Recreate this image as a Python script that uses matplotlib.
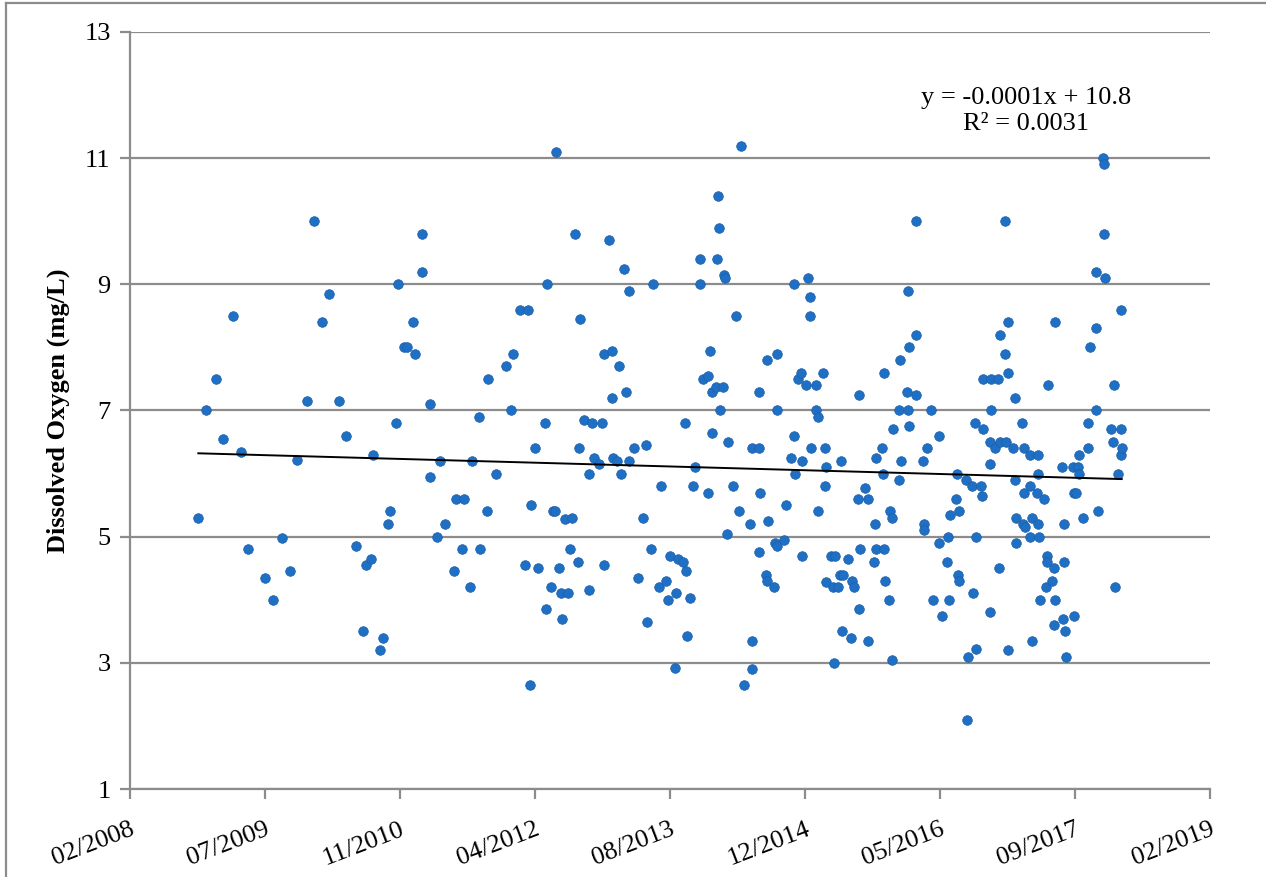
import numpy as np
import pandas as pd
import matplotlib
matplotlib.use("Agg")
import matplotlib.pyplot as plt
import matplotlib.dates as mdates
from matplotlib.lines import Line2D

# Sample dates as spreadsheet date serials (days since 1899-12-30)
sample_serials = [
    39753, 39783, 39817, 39846, 39881, 39910, 39936, 40000, 40028, 40063,
    40093, 40120, 40156, 40183, 40210, 40238, 40274, 40301, 40337, 40364,
    40373, 40393, 40401, 40427, 40436, 40456, 40464, 40485, 40493, 40515,
    40527, 40547, 40556, 40583, 40583, 40610, 40611, 40638, 40647, 40667,
    40701, 40707, 40730, 40738, 40758, 40766, 40793, 40796, 40821, 40825,
    40854, 40892, 40911, 40920, 40946, 40963, 40975, 40981, 40984, 41001,
    41010, 41037, 41041, 41046, 41058, 41068, 41074, 41077, 41089, 41097,
    41101, 41112, 41121, 41129, 41136, 41148, 41159, 41166, 41162, 41183,
    41200, 41201, 41210, 41220, 41238, 41247, 41256, 41257, 41273, 41284,
    41285, 41289, 41303, 41311, 41317, 41328, 41337, 41348, 41349, 41367,
    41380, 41401, 41410, 41414, 41430, 41438, 41459, 41467, 41485, 41494,
    41500, 41519, 41522, 41531, 41547, 41557, 41558, 41562, 41575, 41584,
    41594, 41610, 41612, 41621, 41640, 41642, 41647, 41654, 41655, 41670,
    41675, 41678, 41683, 41686, 41696, 41701, 41705, 41712, 41713, 41732,
    41746, 41756, 41762, 41775, 41796, 41804, 41803, 41805, 41830, 41831,
    41832, 41829, 41856, 41858, 41862, 41861, 41888, 41887, 41895, 41896,
    41897, 41922, 41929, 41948, 41958, 41959, 41962, 41975, 41985, 41989,
    41990, 42004, 42011, 42020, 42019, 42021, 42041, 42040, 42049, 42048,
    42068, 42075, 42076, 42074, 42077, 42097, 42103, 42108, 42111, 42121,
    42131, 42133, 42138, 42142, 42159, 42170, 42175, 42182, 42196, 42200,
    42201, 42205, 42222, 42232, 42233, 42257, 42258, 42262, 42263, 42285,
    42289, 42294, 42293, 42295, 42311, 42316, 42321, 42323, 42326, 42348,
    42349, 42353, 42354, 42378, 42380, 42383, 42385, 42386, 42410, 42411,
    42412, 42436, 42441, 42442, 42451, 42468, 42475, 42495, 42496, 42507,
    42527, 42531, 42532, 42537, 42560, 42562, 42568, 42569, 42570, 42595,
    42599, 42603, 42620, 42623, 42631, 42632, 42633, 42651, 42657, 42658,
    42660, 42684, 42686, 42688, 42687, 42690, 42705, 42715, 42720, 42722,
    42723, 42741, 42742, 42744, 42751, 42752, 42753, 42769, 42777, 42779,
    42781, 42783, 42805, 42808, 42811, 42812, 42815, 42832, 42833, 42834,
    42840, 42841, 42858, 42862, 42863, 42864, 42866, 42870, 42886, 42895,
    42896, 42894, 42899, 42916, 42923, 42924, 42925, 42926, 42953, 42954,
    42959, 42960, 42963, 42965, 42991, 42995, 42997, 43002, 43012, 43014,
    43015, 43031, 43049, 43050, 43057, 43078, 43079, 43077, 43086, 43106,
    43105, 43109, 43110, 43133, 43141, 43144, 43148, 43160, 43169, 43170,
    43171, 43173,
]

# Dissolved oxygen (mg/L) for each sample
do_mg_l = [
    5.30, 7.00, 7.50, 6.55, 8.50, 6.35, 4.80, 4.35, 4.00, 4.98,
    4.45, 6.22, 7.15, 10.00, 8.40, 8.85, 7.15, 6.60, 4.85, 3.50,
    4.55, 4.65, 6.30, 3.20, 3.40, 5.20, 5.40, 6.80, 9.00, 8.00,
    8.00, 8.40, 7.90, 9.80, 9.20, 5.95, 7.10, 5.00, 6.20, 5.20,
    4.45, 5.60, 4.80, 5.60, 4.20, 6.20, 6.90, 4.80, 5.40, 7.50,
    6.00, 7.70, 7.00, 7.90, 8.60, 4.55, 8.60, 2.65, 5.50, 6.40,
    4.50, 6.80, 3.85, 9.00, 4.20, 5.40, 5.40, 11.10, 4.50, 4.10,
    3.70, 5.28, 4.10, 4.80, 5.30, 9.80, 4.60, 8.45, 6.40, 6.85,
    6.00, 4.15, 6.80, 6.25, 6.15, 6.80, 7.90, 4.55, 9.70, 7.95,
    7.20, 6.25, 6.20, 7.70, 6.00, 9.25, 7.30, 8.90, 6.20, 6.40,
    4.35, 5.30, 6.45, 3.65, 4.80, 9.00, 4.20, 5.80, 4.30, 4.00,
    4.70, 2.92, 4.10, 4.65, 4.60, 6.80, 4.45, 3.42, 4.02, 5.80,
    6.10, 9.00, 9.40, 7.50, 7.55, 5.70, 7.95, 6.65, 7.30, 7.38,
    9.40, 10.40, 9.90, 7.00, 7.38, 9.15, 9.10, 5.05, 6.50, 5.80,
    8.50, 5.40, 11.20, 2.65, 5.20, 3.35, 2.90, 6.40, 7.30, 6.40,
    5.70, 4.75, 4.40, 7.80, 5.25, 4.30, 4.90, 4.20, 4.85, 7.90,
    7.00, 4.95, 5.50, 6.25, 9.00, 6.60, 6.00, 7.50, 7.60, 4.70,
    6.20, 7.40, 9.10, 8.80, 8.50, 6.40, 7.40, 7.00, 6.90, 5.40,
    7.60, 6.40, 6.10, 5.80, 4.28, 4.70, 4.20, 3.00, 4.70, 4.20,
    4.40, 6.20, 3.50, 4.40, 4.65, 3.40, 4.30, 4.20, 5.60, 7.25,
    3.85, 4.80, 5.77, 5.60, 3.35, 4.60, 5.20, 4.80, 6.25, 6.40,
    6.00, 7.60, 4.80, 4.30, 4.00, 5.40, 5.30, 3.05, 6.70, 7.00,
    5.90, 7.80, 6.20, 7.30, 7.00, 8.90, 8.00, 6.75, 10.00, 8.20,
    7.25, 6.20, 5.20, 5.10, 6.40, 7.00, 4.00, 6.60, 4.90, 3.75,
    4.60, 5.00, 4.00, 5.35, 5.60, 6.00, 4.40, 5.40, 4.30, 5.90,
    2.10, 3.10, 5.80, 4.10, 6.80, 5.00, 3.22, 5.80, 5.65, 6.70,
    7.50, 6.15, 6.50, 7.00, 3.80, 7.50, 6.40, 7.50, 4.50, 6.50,
    8.20, 7.90, 10.00, 6.50, 7.60, 8.40, 3.20, 6.40, 7.20, 5.90,
    4.90, 5.30, 6.80, 5.20, 6.40, 5.70, 5.15, 6.30, 5.80, 5.00,
    5.30, 3.35, 5.70, 6.30, 6.00, 5.20, 5.00, 4.00, 5.60, 4.70,
    4.60, 4.20, 7.40, 4.30, 4.50, 3.60, 4.00, 8.40, 6.10, 3.70,
    5.20, 4.60, 3.50, 3.10, 6.10, 3.75, 5.70, 5.70, 6.10, 6.00,
    6.30, 5.30, 6.40, 6.80, 8.00, 8.30, 7.00, 9.20, 5.40, 9.80,
    11.00, 10.90, 9.10, 6.70, 6.50, 7.40, 4.20, 6.00, 8.60, 6.30,
    6.70, 6.40,
]

# Axis range and tick labels (spreadsheet serials, 500-day major unit)
x_min_serial, x_max_serial, x_step = 39500, 43500, 500
x_tick_labels = ["02/2008", "07/2009", "11/2010", "04/2012", "08/2013",
                 "12/2014", "05/2016", "09/2017", "02/2019"]
y_ticks = [1, 3, 5, 7, 9, 11, 13]
trend_label = "y = -0.0001x + 10.8\nR\u00b2 = 0.0031"

serials = np.asarray(sample_serials, dtype=float)
values = np.asarray(do_mg_l, dtype=float)


def serial_to_num(s):
    dt = pd.to_datetime(np.asarray(s, dtype=float), unit="D", origin="1899-12-30")
    return mdates.date2num(dt)


x_dates = serial_to_num(serials)

# Linear trend fitted on the serial date values
slope, intercept = np.polyfit(serials, values, 1)
line_serials = np.array([serials.min(), serials.max()])
line_vals = slope * line_serials + intercept

plt.rcParams["font.family"] = ["Liberation Serif", "DejaVu Serif"]

W, H, DPI = 1266, 877, 100
fig = plt.figure(figsize=(W / DPI, H / DPI), dpi=DPI)
ax = fig.add_axes([130 / W, 1 - 789 / H, 1080 / W, 757 / H])

grid_color = "#8c8c8c"
ax.set_axisbelow(True)
ax.yaxis.grid(True, color=grid_color, linewidth=1.6)
ax.xaxis.grid(False)

ax.scatter(x_dates, values, s=48, color="#1f6fc4", edgecolors="#1a5fa8",
           linewidths=0.5, zorder=3)
ax.plot(serial_to_num(line_serials), line_vals, color="black",
        linewidth=1.4, zorder=4)

tick_serials = np.arange(x_min_serial, x_max_serial + 1, x_step)
ax.set_xlim(serial_to_num([x_min_serial])[0], serial_to_num([x_max_serial])[0])
ax.set_xticks(serial_to_num(tick_serials))
ax.set_xticklabels(x_tick_labels, rotation=21, ha="right", va="top",
                   rotation_mode="anchor", fontsize=19)

ax.set_ylim(1, 13)
ax.set_yticks(y_ticks)
ax.set_yticklabels([str(v) for v in y_ticks], fontsize=19)

for side in ("top", "right"):
    ax.spines[side].set_visible(False)
for side in ("left", "bottom"):
    ax.spines[side].set_color(grid_color)
    ax.spines[side].set_linewidth(1.6)
ax.tick_params(axis="both", direction="out", length=7, width=1.6,
               color=grid_color, labelcolor="black")
ax.tick_params(axis="y", pad=7)
ax.tick_params(axis="x", pad=14)

ax.set_ylabel("Dissolved Oxygen (mg/L)", fontsize=19, fontweight="bold",
              labelpad=10)

ax.text(1026 / W, 1 - 111 / H, trend_label, transform=fig.transFigure,
        ha="center", va="center", fontsize=19, linespacing=1.25)

# Chart area outline
fig.add_artist(Line2D([6 / W, 6 / W], [0, 1 - 3 / H], transform=fig.transFigure,
                      color=grid_color, linewidth=1.6))
fig.add_artist(Line2D([6 / W, 1], [1 - 3 / H, 1 - 3 / H], transform=fig.transFigure,
                      color=grid_color, linewidth=1.6))

fig.savefig("out.png", dpi=DPI, facecolor="white")
